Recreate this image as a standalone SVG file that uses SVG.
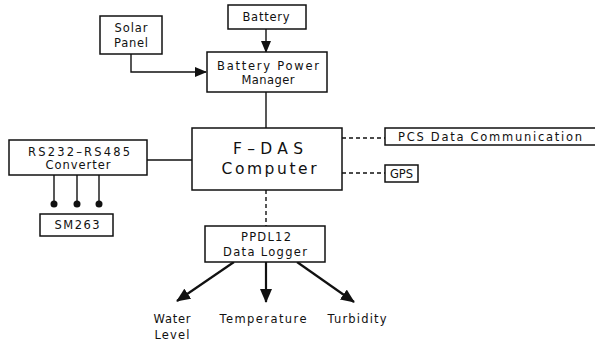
<svg xmlns="http://www.w3.org/2000/svg" width="595" height="343" viewBox="0 0 595 343">
<style>
.box{fill:#fff;stroke:#111;stroke-width:1.5}
.ln{fill:none;stroke:#111;stroke-width:1.4}
.dash{fill:none;stroke:#111;stroke-width:1.4;stroke-dasharray:4 3}
.thick{fill:none;stroke:#111;stroke-width:2.2}
text{font-family:"DejaVu Sans","Liberation Sans",Arial,sans-serif;font-size:11.5px;fill:#111}
.c{text-anchor:middle}
.big{font-size:15.5px}
</style>
<defs>
<marker id="ah" markerUnits="userSpaceOnUse" markerWidth="12" markerHeight="10" refX="11" refY="5" orient="auto">
<path d="M0,0 L12,5 L0,10 Z" fill="#111"/>
</marker>
<marker id="ah2" markerUnits="userSpaceOnUse" markerWidth="14" markerHeight="12" refX="13" refY="6" orient="auto">
<path d="M0,0 L14,6 L0,12 Z" fill="#111"/>
</marker>
</defs>
<rect width="595" height="343" fill="#fff"/>
<g id="connectors">
<line class="ln" x1="266" y1="29" x2="266" y2="52" marker-end="url(#ah)"/>
<path class="ln" d="M131,54 V72 H206" marker-end="url(#ah)"/>
<line class="ln" x1="266" y1="92" x2="266" y2="128"/>
<line class="dash" x1="342" y1="138" x2="385" y2="138"/>
<line class="dash" x1="342" y1="173" x2="385" y2="173"/>
<line class="ln" x1="147" y1="160" x2="192" y2="160"/>
<line class="ln" x1="54" y1="175" x2="54" y2="203"/>
<line class="ln" x1="77" y1="175" x2="77" y2="203"/>
<line class="ln" x1="99" y1="175" x2="99" y2="203"/>
<circle cx="54" cy="204" r="3.5" fill="#111"/>
<circle cx="77" cy="204" r="3.5" fill="#111"/>
<circle cx="99" cy="204" r="3.5" fill="#111"/>
<line class="dash" x1="266" y1="190" x2="266" y2="226"/>
<line class="thick" x1="234" y1="262" x2="177" y2="301" marker-end="url(#ah2)"/>
<line class="thick" x1="266" y1="262" x2="266" y2="302" marker-end="url(#ah2)"/>
<line class="thick" x1="297" y1="262" x2="354" y2="302" marker-end="url(#ah2)"/>
</g>
<g id="solar">
<rect class="box" x="100" y="16" width="62" height="38"/>
<text class="c" x="131" y="32" textLength="33" lengthAdjust="spacing">Solar</text>
<text class="c" x="131" y="47" textLength="34" lengthAdjust="spacing">Panel</text>
</g>
<g id="battery">
<rect class="box" x="228" y="5" width="78" height="24"/>
<text class="c" x="266" y="21" textLength="47" lengthAdjust="spacing">Battery</text>
</g>
<g id="bpm">
<rect class="box" x="207" y="52" width="120" height="40"/>
<text class="c" x="268" y="70" textLength="102" lengthAdjust="spacing">Battery Power</text>
<text class="c" x="268" y="84" textLength="53" lengthAdjust="spacing">Manager</text>
</g>
<g id="fdas">
<rect class="box" x="192" y="128" width="150" height="62"/>
<text class="c big" x="268" y="154" textLength="70" lengthAdjust="spacing">F–DAS</text>
<text class="c big" x="269" y="174" textLength="95" lengthAdjust="spacing">Computer</text>
</g>
<g id="pcs">
<rect class="box" x="385" y="128" width="215" height="17"/>
<text x="398" y="141" textLength="184" lengthAdjust="spacing">PCS Data Communication</text>
</g>
<g id="gps">
<rect class="box" x="385" y="165" width="33" height="17"/>
<text class="c" x="401.5" y="178">GPS</text>
</g>
<g id="rs232">
<rect class="box" x="9" y="140" width="138" height="35"/>
<text class="c" x="79" y="156" textLength="102" lengthAdjust="spacing">RS232–RS485</text>
<text class="c" x="78" y="169" textLength="65" lengthAdjust="spacing">Converter</text>
</g>
<g id="sm263">
<rect class="box" x="40" y="214" width="73" height="22"/>
<text class="c" x="77" y="229" textLength="45" lengthAdjust="spacing">SM263</text>
</g>
<g id="ppdl">
<rect class="box" x="205" y="226" width="120" height="36"/>
<text class="c" x="266" y="241" textLength="50" lengthAdjust="spacing">PPDL12</text>
<text class="c" x="265" y="256" textLength="84" lengthAdjust="spacing">Data Logger</text>
</g>
<g id="water">
<text class="c" x="172" y="323" textLength="37" lengthAdjust="spacing">Water</text>
<text class="c" x="172" y="339" textLength="35" lengthAdjust="spacing">Level</text>
</g>
<g id="temperature">
<text class="c" x="263" y="323" textLength="87" lengthAdjust="spacing">Temperature</text>
</g>
<g id="turbidity">
<text class="c" x="357" y="323" textLength="59" lengthAdjust="spacing">Turbidity</text>
</g>
</svg>
